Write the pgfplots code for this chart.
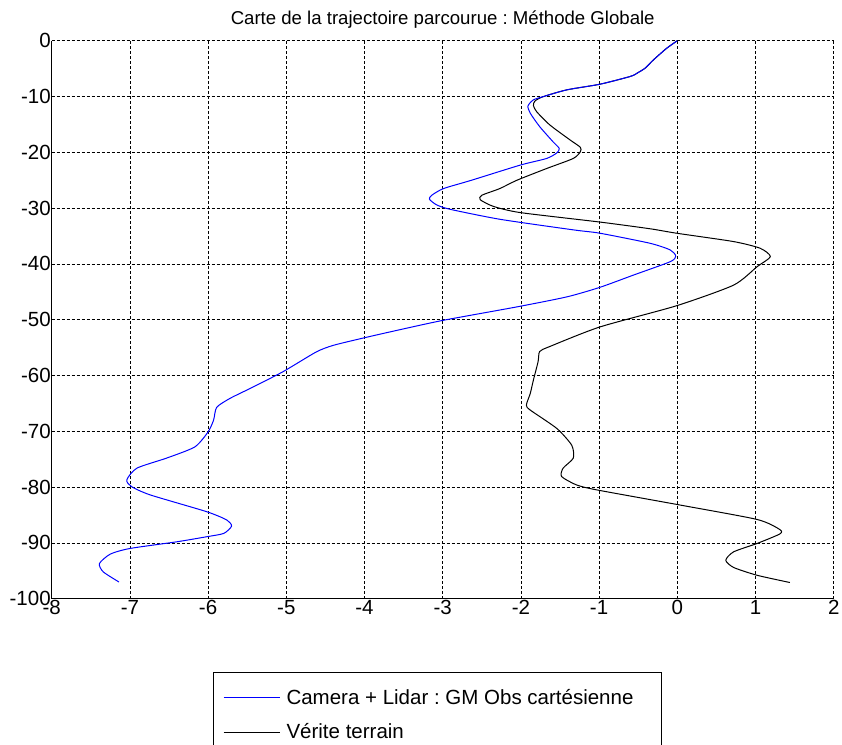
\documentclass[border=0pt]{standalone}
\usepackage{fontspec}
\setmainfont{Liberation Sans}
\usepackage{pgfplots}
\pgfplotsset{compat=1.18}

\begin{document}
\frenchspacing
\begin{tikzpicture}
% page = image: axis box sits at (0,0)--(391pt,279pt)
\useasboundingbox (-25.85pt,-73.15pt) rectangle (395.15pt,299.35pt);
\begin{axis}[
  scale only axis,
  width=391pt, height=279pt,
  xmin=-8, xmax=2,
  ymin=-100, ymax=0,
  xtick={-8,-7,...,2},
  ytick={-100,-90,...,0},
  axis x line*=bottom, axis y line*=left,
  axis line style={-, line width=0.6pt, black},
  tick style={draw=none},
  grid=major,
  major grid style={black, line width=0.4pt, dash pattern=on 1.5pt off 1pt},
  /pgf/number format/assume math mode=true,
  tick label style={font=\fontsize{10.25}{12}\selectfont},
  xticklabel style={anchor=north, inner sep=0pt, yshift=-0.5pt},
  yticklabel style={anchor=east, inner sep=0pt, xshift=-0.3pt},
  title={Carte de la trajectoire parcourue : Méthode Globale},
  title style={font=\fontsize{9.3}{11}\selectfont, at={(0.5,1)}, anchor=base, yshift=2.35pt, inner sep=0pt},
  legend style={
    at={(0.2063,-0.1314)}, anchor=north west,
    draw=black, line width=0.5pt,
    font=\fontsize{10.25}{12}\selectfont,
    inner xsep=4.8pt, inner ysep=8.2pt,
    nodes={inner sep=0pt},
    column sep=3.2pt, row sep=8.0pt,
    cells={anchor=west},
  },
  legend image code/.code={\draw[#1] (0pt,0pt) -- (28pt,0pt);},
]
\addlegendimage{blue, line width=0.5pt}
\addlegendentry{Camera + Lidar : GM Obs cartésienne\hspace*{9pt}}
\addlegendimage{black, line width=0.5pt}
\addlegendentry{Vérite terrain}

% Verite terrain
\addplot[black, line width=0.5pt, smooth, tension=0.4, forget plot] coordinates {
(0,0) (-0.14,-1.4) (-0.31,-3.5) (-0.41,-4.9) (-0.50,-5.7) (-0.60,-6.4)
(-0.99,-7.8) (-1.41,-8.8) (-1.71,-10.0) (-1.82,-10.8) (-1.84,-11.6)
(-1.80,-12.7) (-1.63,-15.1) (-1.37,-17.8) (-1.24,-19.1) (-1.24,-19.9)
(-1.33,-21.1) (-1.67,-22.9) (-2.05,-25.0) (-2.27,-26.5) (-2.50,-27.7)
(-2.52,-28.5) (-2.35,-29.7) (-2.01,-30.8) (-0.99,-32.5) (-0.35,-33.7)
(-0.01,-34.5) (0.72,-36.0) (1.06,-37.2) (1.19,-38.7) (1.02,-40.5)
(0.72,-43.8) (-0.01,-47.5) (-0.99,-51.3) (-1.63,-54.8) (-1.76,-55.7)
(-1.78,-57.5) (-1.84,-60.8) (-1.88,-63.2) (-1.93,-65.3) (-1.88,-66.2)
(-1.54,-69.5) (-1.35,-72.5) (-1.33,-74.8) (-1.46,-76.6) (-1.48,-78.1)
(-1.29,-79.6) (-1.03,-80.5) (0.03,-83.2) (1.02,-85.8) (1.31,-87.6)
(1.31,-88.4) (1.02,-90.1) (0.72,-91.6) (0.62,-93.1) (0.72,-94.4)
(1.02,-95.8) (1.44,-97.1)
};

% Camera + Lidar
\addplot[blue, line width=0.5pt, smooth, tension=0.4, forget plot] coordinates {
(0,0) (-0.14,-1.4) (-0.31,-3.5) (-0.41,-4.9) (-0.50,-5.7) (-0.60,-6.4)
(-0.99,-7.8) (-1.41,-8.8) (-1.71,-10.0) (-1.84,-10.6) (-1.91,-11.7)
(-1.88,-13.0) (-1.76,-15.4) (-1.59,-18.1) (-1.51,-19.3) (-1.54,-20.1)
(-1.67,-21.1) (-2.01,-22.3) (-2.63,-25.0) (-2.99,-26.5) (-3.14,-27.7)
(-3.17,-28.4) (-3.08,-29.4) (-2.91,-30.2) (-2.27,-32.0) (-1.33,-33.9)
(-0.99,-34.5) (-0.35,-36.3) (-0.09,-37.5) (-0.02,-38.6) (-0.09,-39.6)
(-0.56,-42.0) (-0.99,-44.2) (-1.41,-45.9) (-2.05,-47.7) (-2.99,-50.1)
(-3.55,-51.8) (-3.99,-53.2) (-4.40,-54.6) (-4.62,-55.8) (-5.04,-59.3)
(-5.46,-62.3) (-5.72,-64.1) (-5.89,-65.7) (-5.93,-68.0) (-6.00,-70.1)
(-6.17,-72.8) (-6.53,-74.8) (-6.91,-76.6) (-7.04,-78.7) (-6.98,-79.9)
(-6.74,-81.4) (-6.02,-84.4) (-5.76,-85.9) (-5.70,-87.0) (-5.80,-88.3)
(-6.02,-88.9) (-6.40,-89.8) (-7.00,-91.0) (-7.25,-92.0) (-7.39,-93.7)
(-7.34,-95.2) (-7.14,-97.0)
};
\end{axis}
\end{tikzpicture}
\end{document}
